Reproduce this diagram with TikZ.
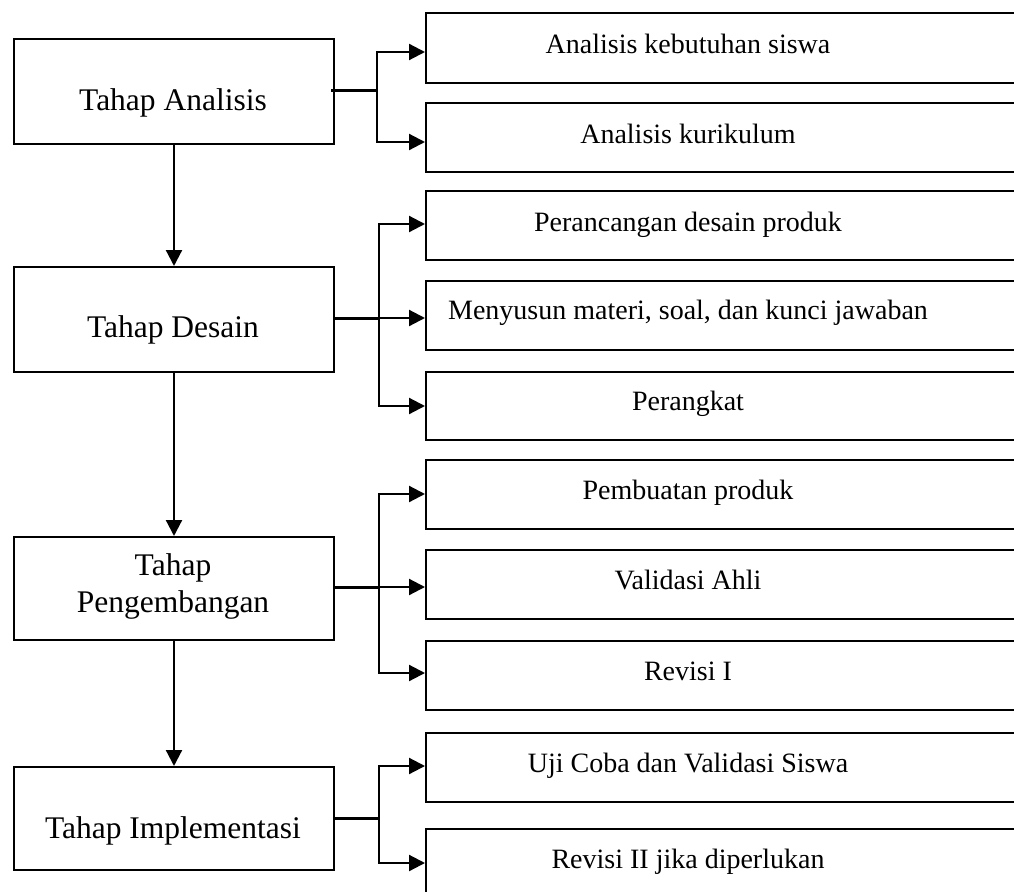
\documentclass[tikz,border=0pt]{standalone}
\usepackage{fontspec}
\setmainfont{Liberation Serif}
\usetikzlibrary{arrows.meta}
\begin{document}
\begin{tikzpicture}[x=1pt,y=-1pt,
  lbox/.style={draw,line width=2pt,inner sep=0pt,anchor=north west,minimum width=320pt,minimum height=#1},
  rbox/.style={draw,line width=2pt,inner sep=0pt,anchor=north west,minimum width=640pt,minimum height=#1},
  ltext/.style={inner sep=0pt,anchor=base,font=\fontsize{31.5}{37}\selectfont,align=center},
  rtext/.style={inner sep=0pt,anchor=base,font=\fontsize{28}{33}\selectfont},
  arr/.style={line width=2.2pt,-{Triangle[length=16pt,width=16pt]}},
  stub/.style={line width=3pt}]
\fill[white] (0,0) rectangle (1014,891);
\clip (0,0) rectangle (1014,891);
% left boxes
\node[lbox=105pt] (ana) at (13,38) {};
\node[lbox=105pt] (des) at (13,266) {};
\node[lbox=103pt] (pen) at (13,536) {};
\node[lbox=103pt] (imp) at (13,766) {};
\node[ltext] (tana) at (173,110) {Tahap Analisis};
\node[ltext] (tdes) at (173,337) {Tahap Desain};
\node[ltext] (tpen1) at (173,575) {Tahap};
\node[ltext] (tpen2) at (173,612) {Pengembangan};
\node[ltext] (timp) at (173,838) {Tahap Implementasi};
% right boxes
\node[rbox=70pt] (r1) at (425,12) {};
\node[rbox=69pt] (r2) at (425,102) {};
\node[rbox=69pt] (r3) at (425,190) {};
\node[rbox=69pt] (r4) at (425,280) {};
\node[rbox=68pt] (r5) at (425,371) {};
\node[rbox=69pt] (r6) at (425,459) {};
\node[rbox=69pt] (r7) at (425,549) {};
\node[rbox=69pt] (r8) at (425,640) {};
\node[rbox=69pt] (r9) at (425,732) {};
\node[rbox=70pt] (r10) at (425,828) {};
\node[rtext] (t1) at (688,53) {Analisis kebutuhan siswa};
\node[rtext] (t2) at (688,143) {Analisis kurikulum};
\node[rtext] (t3) at (688,231) {Perancangan desain produk};
\node[rtext] (t4) at (688,319) {Menyusun materi, soal, dan kunci jawaban};
\node[rtext] (t5) at (688,410) {Perangkat};
\node[rtext] (t6) at (688,499) {Pembuatan produk};
\node[rtext] (t7) at (688,589) {Validasi Ahli};
\node[rtext] (t8) at (688,680) {Revisi I};
\node[rtext] (t9) at (688,772) {Uji Coba dan Validasi Siswa};
\node[rtext] (t10) at (688,868) {Revisi II jika diperlukan};
% vertical arrows
\draw[arr] (ana.south) -- (des.north);
\draw[arr] (des.south) -- (pen.north);
\draw[arr] (pen.south) -- (imp.north);
% branches
\coordinate (j1) at (377,90);
\draw[stub] ([xshift=-4pt]ana.east |- j1) -- (j1);
\draw[arr] (j1) |- (r1.west |- 0,52);
\draw[arr] (j1) |- (r2.west |- 0,142);
\coordinate (j2) at (379,318);
\draw[stub] (des.east |- j2) -- (j2);
\draw[arr] (j2) |- (r3.west |- 0,224);
\draw[arr] (j2) -- (r4.west |- j2);
\draw[arr] (j2) |- (r5.west |- 0,406);
\coordinate (j3) at (379,587);
\draw[stub] (pen.east |- j3) -- (j3);
\draw[arr] (j3) |- (r6.west |- 0,494);
\draw[arr] (j3) -- (r7.west |- j3);
\draw[arr] (j3) |- (r8.west |- 0,673);
\coordinate (j4) at (379,818);
\draw[stub] (imp.east |- j4) -- (j4);
\draw[arr] (j4) |- (r9.west |- 0,766);
\draw[arr] (j4) |- (r10.west |- 0,863);
\end{tikzpicture}
\end{document}
